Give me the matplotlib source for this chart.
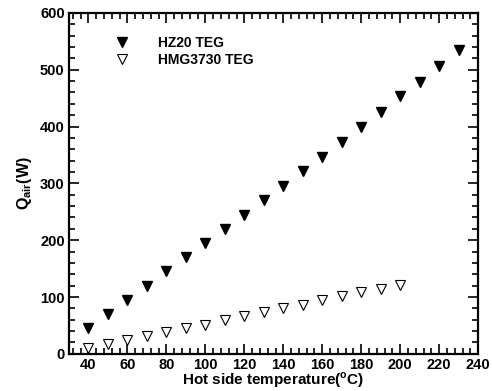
import matplotlib.pyplot as plt
from matplotlib.ticker import MultipleLocator

plt.rcParams['font.family'] = ['Liberation Sans', 'DejaVu Sans']
plt.rcParams['font.weight'] = 'bold'
plt.rcParams['axes.labelweight'] = 'bold'
plt.rcParams['mathtext.fontset'] = 'custom'
plt.rcParams['mathtext.rm'] = 'Liberation Sans:bold'
plt.rcParams['mathtext.bf'] = 'Liberation Sans:bold'

temp_hz20 = [40, 50, 60, 70, 80, 90, 100, 110, 120, 130, 140, 150, 160, 170,
             180, 190, 200, 210, 220, 230]
q_hz20 = [45, 70, 95, 120, 145, 170, 195, 220, 245, 270, 296, 321, 347, 372,
          400, 426, 453, 479, 506, 535]

temp_hmg = [40, 50, 60, 70, 80, 90, 100, 110, 120, 130, 140, 150, 160, 170,
            180, 190, 200]
q_hmg = [10, 18, 25, 32, 38, 45, 51, 59, 66, 73, 80, 86, 94, 101, 108, 115, 121]

fig = plt.figure(figsize=(4.92, 3.91), dpi=100)
ax = fig.add_axes([0.140, 0.095, 0.832, 0.872])

ax.plot(temp_hz20, q_hz20, 'v', color='black', markersize=6.5, label='HZ20 TEG')
ax.plot(temp_hmg, q_hmg, 'v', markerfacecolor='white', markeredgecolor='black',
        markeredgewidth=0.8, markersize=7, label='HMG3730 TEG')

ax.set_xlim(30, 240)
ax.set_ylim(0, 600)
ax.xaxis.set_major_locator(MultipleLocator(20))
ax.xaxis.set_minor_locator(MultipleLocator(4))
ax.yaxis.set_major_locator(MultipleLocator(100))
ax.yaxis.set_minor_locator(MultipleLocator(20))
ax.tick_params(which='both', direction='in', top=True, right=True, width=1.2)
ax.tick_params(which='major', length=7, labelsize=10.5, pad=3)
ax.tick_params(which='minor', length=4)
for s in ax.spines.values():
    s.set_linewidth(1.6)

ax.set_xlabel(r'Hot side temperature($^{\mathrm{o}}$C)', fontsize=11,
              fontweight='bold', labelpad=-1)
ax.set_ylabel(r'Q$_{\mathrm{air}}$(W)', fontsize=11.5, fontweight='bold',
              labelpad=4)

ax.legend(loc='upper left', bbox_to_anchor=(0.065, 0.97), frameon=False,
          fontsize=10, handletextpad=1.6, labelspacing=0.25)

fig.savefig('out.png', dpi=100)
